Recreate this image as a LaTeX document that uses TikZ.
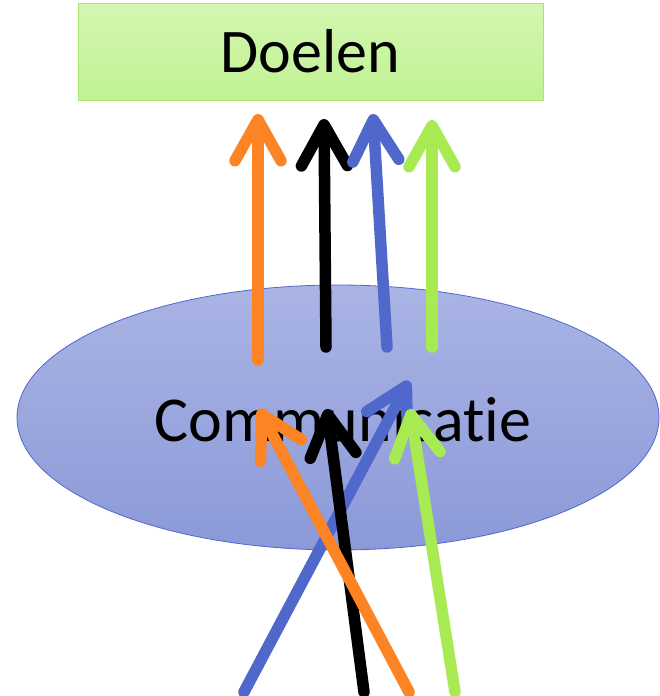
\documentclass[tikz,border=0pt]{standalone}
\usepackage{fontspec}
\setmainfont{Carlito}
\usetikzlibrary{shapes.geometric,arrows.meta}
\definecolor{aorange}{HTML}{FD8424}
\definecolor{ablue}{HTML}{5068CB}
\definecolor{agreen}{HTML}{A8EA52}
\definecolor{egtop}{HTML}{AAB4E4}
\definecolor{egbot}{HTML}{8B99D8}
\definecolor{egline}{HTML}{5068CB}
\definecolor{rtop}{HTML}{D3F6B0}
\definecolor{rbot}{HTML}{C1F293}
\definecolor{rline}{HTML}{A6E76F}
\tikzset{
  bigarrow/.style={line width=11.5pt, line cap=round,
    -{Straight Barb[length=41pt,width=46pt,round]}},
  goalbox/.style={rectangle, draw=rline, line width=0.8pt, top color=rtop, bottom color=rbot,
    minimum width=465pt, minimum height=97pt, inner sep=0pt, font=\fontsize{62pt}{70pt}\selectfont},
  commell/.style={ellipse, draw=egline, line width=0.8pt, top color=egtop, bottom color=egbot,
    minimum width=642pt, minimum height=265pt, inner sep=0pt},
  commtext/.style={font=\fontsize{64pt}{72pt}\selectfont, inner sep=0pt}
}
\begin{document}
\begin{tikzpicture}[x=1pt,y=-1pt]
\useasboundingbox (0,0) rectangle (659,696);
\node[goalbox] (doel) at (310.5,51.5) {Doelen};
\node[commell] (comm) at (338,417.5) {};
\node[commtext] (commtxt) at (343,420) {Communicat\kern0pt ie};
% upper arrows
\coordinate (o1) at (258,360); \coordinate (o2) at (258,114);
\coordinate (k1) at (326,347); \coordinate (k2) at (324,119);
\coordinate (b1) at (387,347); \coordinate (b2) at (373,114);
\coordinate (g1) at (432,347); \coordinate (g2) at (432,120);
\draw[bigarrow, aorange] (o1) -- (o2);
\draw[bigarrow, black] (k1) -- (k2);
\draw[bigarrow, ablue] (b1) -- (b2);
\draw[bigarrow, agreen] (g1) -- (g2);
% lower arrows
\coordinate (lb1) at (244,692); \coordinate (lb2) at (409,381);
\coordinate (lk1) at (364,692); \coordinate (lk2) at (327,409);
\coordinate (lo1) at (409,692); \coordinate (lo2) at (259,409);
\coordinate (lg1) at (455,692); \coordinate (lg2) at (410,409);
\draw[bigarrow, ablue] (lb1) -- (lb2);
\draw[bigarrow, black] (lk1) -- (lk2);
\draw[bigarrow, aorange] (lo1) -- (lo2);
\draw[bigarrow, agreen] (lg1) -- (lg2);
\end{tikzpicture}
\end{document}
